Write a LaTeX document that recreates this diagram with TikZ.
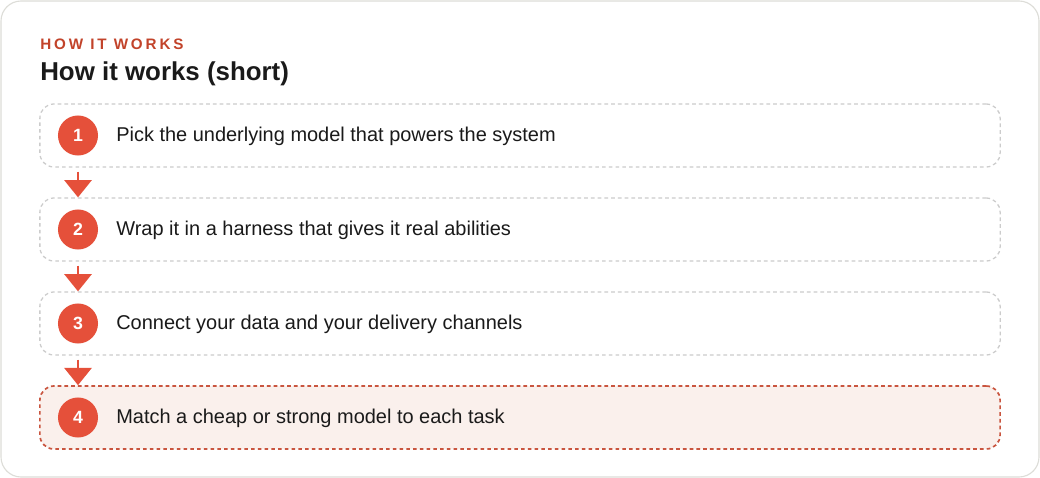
\documentclass[tikz,border=0pt]{standalone}
\usepackage{fontspec}
\setmainfont{Liberation Sans}
\usetikzlibrary{arrows.meta}

\definecolor{cardline}{HTML}{DDDDD8}
\definecolor{dashgray}{HTML}{CCCCCC}
\definecolor{accent}{HTML}{E5503A}
\definecolor{kicker}{HTML}{C2432A}
\definecolor{hotfill}{HTML}{FAF0EC}
\definecolor{hotline}{HTML}{C9553F}
\definecolor{ink}{HTML}{1A1A1A}

\begin{document}
\begin{tikzpicture}[x=0.025cm,y=-0.025cm,
  stepbox/.style={draw=dashgray,line width=0.9pt,dash pattern=on 2.6pt off 2.2pt,
    rounded corners=0.35cm,minimum width=24cm,minimum height=1.575cm,inner sep=0pt},
  hotbox/.style={stepbox,draw=hotline,fill=hotfill,line width=1.2pt},
  numdot/.style={circle,fill=accent,minimum size=1cm,inner sep=0pt,
    text=white,font=\bfseries\fontsize{12.6}{14}\selectfont},
  steptext/.style={anchor=west,inner sep=0pt,text=ink,font=\fontsize{14.2}{16}\selectfont},
  flow/.style={accent,line width=1.4pt,-{Triangle[width=0.68cm,length=0.43cm]}}]
  \useasboundingbox (0,0) rectangle (1040,478);
  \draw[cardline,fill=white,line width=0.8pt,rounded corners=0.5cm] (1,1) rectangle (1039,477);

  \node[anchor=base west,inner sep=0pt,text=kicker,font=\bfseries\fontsize{10.8}{12}\selectfont\addfontfeatures{LetterSpace=19}]
    (kick) at (40,50) {HOW IT WORKS};
  \node[anchor=base west,inner sep=0pt,text=ink,font=\bfseries\fontsize{18.4}{21}\selectfont]
    (title) at (40,81) {How it works (short)};

  \node[stepbox] (step1) at (520,135.5) {};
  \node[stepbox] (step2) at (520,229.5) {};
  \node[stepbox] (step3) at (520,323.5) {};
  \node[hotbox] (step4) at (520,417.5) {};

  \node[numdot] (num1) at (78,135.5) {1};
  \node[numdot] (num2) at (78,229.5) {2};
  \node[numdot] (num3) at (78,323.5) {3};
  \node[numdot] (num4) at (78,417.5) {4};

  \node[steptext] (txt1) at (116,136.5) {Pick the underlying model that powers the system};
  \node[steptext] (txt2) at (116,230.5) {Wrap it in a harness that gives it real abilities};
  \node[steptext] (txt3) at (116,324.5) {Connect your data and your delivery channels};
  \node[steptext] (txt4) at (116,418.5) {Match a cheap or strong model to each task};

  \draw[flow] ([yshift=-0.1cm]step1.south -| num1) -- (step2.north -| num1);
  \draw[flow] ([yshift=-0.1cm]step2.south -| num2) -- (step3.north -| num2);
  \draw[flow] ([yshift=-0.1cm]step3.south -| num3) -- (step4.north -| num3);
\end{tikzpicture}
\end{document}
